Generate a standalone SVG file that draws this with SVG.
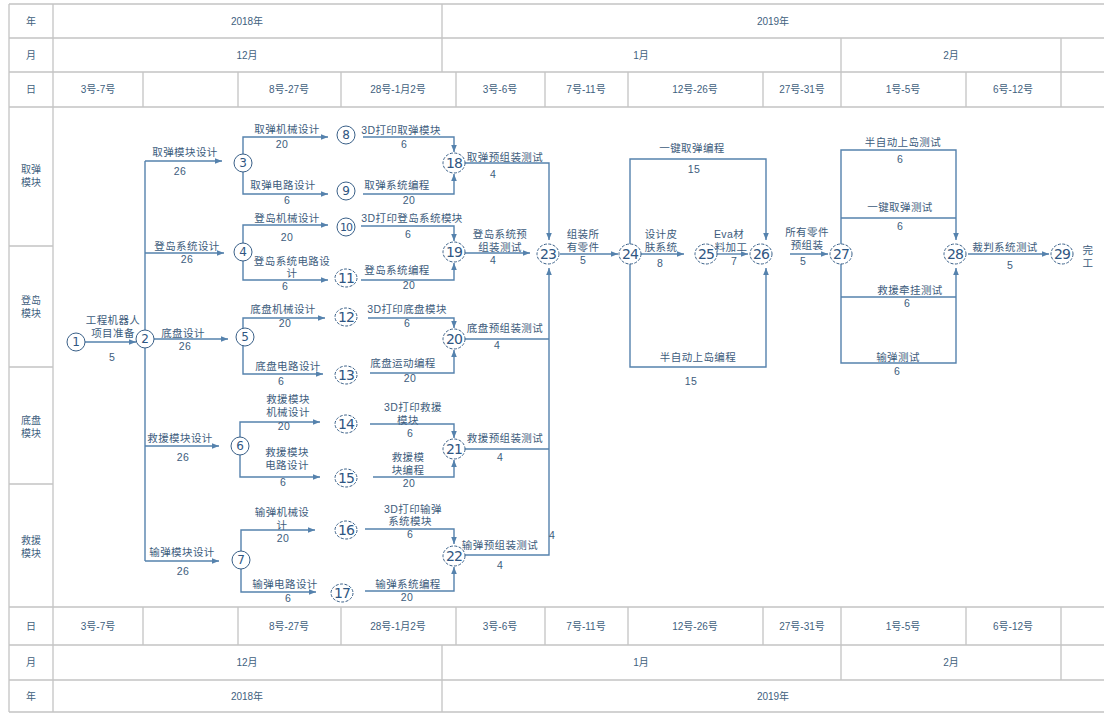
<svg xmlns="http://www.w3.org/2000/svg" width="1104" height="713" viewBox="0 0 1104 713">
<style>
.g{stroke:#c4c4c4;stroke-width:1.3;fill:none}
.h{font-family:"Liberation Sans","Noto Sans CJK SC",sans-serif;font-size:10px;fill:#3f5f80;text-anchor:middle;dominant-baseline:central}
.t{font-family:"Liberation Sans","Noto Sans CJK SC",sans-serif;font-size:10.5px;fill:#3d5c7c;text-anchor:middle;dominant-baseline:central;letter-spacing:0.4px}
.c path{stroke:#5582ad;stroke-width:1.4;fill:none}
.a{marker-end:url(#ar)}
.n circle,.n ellipse{fill:#fff;stroke:#3a6088;stroke-width:1}
.n ellipse{stroke-dasharray:3 1.5}
.n text{font-family:"DejaVu Sans","Liberation Sans",sans-serif;fill:#2f5682;text-anchor:middle;dominant-baseline:central}
.s{font-size:12px}
.b{font-size:14px;letter-spacing:-1px}
</style>
<defs>
<marker id="ar" viewBox="0 0 10 10" refX="10" refY="5" markerWidth="7" markerHeight="7" orient="auto" markerUnits="userSpaceOnUse"><path d="M0,1 L10,5 L0,9 z" fill="#5582ad"/></marker>
</defs>
<rect x="0" y="0" width="1104" height="713" fill="#fff"/>
<g id="table">
<path class="g" d="M9,4 H1104 M9,38 H1104 M9,72 H1104 M9,107 H1104 M9,607 H1104 M9,645 H1104 M9,680 H1104 M9,712 H1104 M9,4 V712 M53,4 V712 M9,246 H53 M9,367 H53 M9,484 H53 M442,4 V72 M841,38 V72 M1061,38 V72 M143,72 V107 M238,72 V107 M341,72 V107 M456,72 V107 M545,72 V107 M628,72 V107 M763,72 V107 M841,72 V107 M966,72 V107 M1061,72 V107 M143,607 V645 M238,607 V645 M341,607 V645 M456,607 V645 M545,607 V645 M628,607 V645 M763,607 V645 M841,607 V645 M966,607 V645 M1061,607 V645 M442,645 V712 M841,645 V680 M1061,645 V680"/>
<text class="h" x="31" y="21">年</text><text class="h" x="247" y="21">2018年</text><text class="h" x="773" y="21">2019年</text>
<text class="h" x="31" y="55">月</text><text class="h" x="247" y="55">12月</text><text class="h" x="641" y="55">1月</text><text class="h" x="951" y="55">2月</text>
<text class="h" x="31" y="89">日</text><text class="h" x="98" y="89">3号-7号</text><text class="h" x="289" y="89">8号-27号</text><text class="h" x="398" y="89">28号-1月2号</text><text class="h" x="500" y="89">3号-6号</text><text class="h" x="586" y="89">7号-11号</text><text class="h" x="695" y="89">12号-26号</text><text class="h" x="802" y="89">27号-31号</text><text class="h" x="903" y="89">1号-5号</text><text class="h" x="1013" y="89">6号-12号</text>
<text class="h" x="31" y="626">日</text><text class="h" x="98" y="626">3号-7号</text><text class="h" x="289" y="626">8号-27号</text><text class="h" x="398" y="626">28号-1月2号</text><text class="h" x="500" y="626">3号-6号</text><text class="h" x="586" y="626">7号-11号</text><text class="h" x="695" y="626">12号-26号</text><text class="h" x="802" y="626">27号-31号</text><text class="h" x="903" y="626">1号-5号</text><text class="h" x="1013" y="626">6号-12号</text>
<text class="h" x="31" y="662">月</text><text class="h" x="247" y="662">12月</text><text class="h" x="641" y="662">1月</text><text class="h" x="951" y="662">2月</text>
<text class="h" x="31" y="696">年</text><text class="h" x="247" y="696">2018年</text><text class="h" x="773" y="696">2019年</text>
<text class="h" x="31" y="169">取弹</text><text class="h" x="31" y="182">模块</text>
<text class="h" x="31" y="300">登岛</text><text class="h" x="31" y="313">模块</text>
<text class="h" x="31" y="420">底盘</text><text class="h" x="31" y="433">模块</text>
<text class="h" x="31" y="540">救援</text><text class="h" x="31" y="553">模块</text>
</g>
<g id="connectors" class="c">
<path class="a" d="M85,342 H136"/>
<path d="M145,161 V561"/>
<path class="a" d="M145,161 H222"/>
<path class="a" d="M145,253 H224"/>
<path class="a" d="M154,339 H228"/>
<path class="a" d="M145,446 H219"/>
<path class="a" d="M145,561 H219"/>
<path class="a" d="M243,163 V137 H328"/><path class="a" d="M243,163 V194 H328"/>
<path class="a" d="M243,252 V225 H328"/><path class="a" d="M243,252 V280 H328"/>
<path class="a" d="M243,337 V318 H325"/><path class="a" d="M243,337 V374 H323"/>
<path class="a" d="M240,446 V422 H320"/><path class="a" d="M240,446 V477 H320"/>
<path class="a" d="M241,560 V530 H315"/><path class="a" d="M241,560 V592 H316"/>
<path class="a" d="M363,137 H454 V152"/><path class="a" d="M363,194 H454 V174"/>
<path class="a" d="M361,226 H454 V241"/><path class="a" d="M361,280 H454 V263"/>
<path class="a" d="M368,318 H454 V328"/><path class="a" d="M370,373 H454 V350"/>
<path class="a" d="M370,424 H454 V438"/><path class="a" d="M373,477 H454 V460"/>
<path class="a" d="M365,529 H454 V544"/><path class="a" d="M365,591 H454 V567"/>
<path class="a" d="M465,163 H549 V240"/>
<path class="a" d="M465,253 H530"/>
<path d="M465,339 H549"/><path d="M465,449 H549"/>
<path class="a" d="M465,555 H549 V268"/>
<path class="a" d="M560,254 H618"/>
<path class="a" d="M630,254 V159 H766 V240"/><path class="a" d="M630,254 V367 H766 V268"/>
<path class="a" d="M641,254 H684"/>
<path class="a" d="M717,254 H748"/>
<path class="a" d="M790,254 H828"/>
<path class="a" d="M841,254 V150 H956 V240"/><path d="M841,218 H956"/>
<path class="a" d="M841,254 V363 H956 V268"/><path d="M841,297 H956"/>
<path class="a" d="M968,254 H1049"/>
</g>
<g id="labels">
<text class="t" x="113" y="320">工程机器人</text><text class="t" x="113" y="333">项目准备</text><text class="t" x="112" y="357">5</text>
<text class="t" x="185" y="152">取弹模块设计</text><text class="t" x="180" y="171">26</text>
<text class="t" x="187" y="246">登岛系统设计</text><text class="t" x="187" y="259">26</text>
<text class="t" x="183" y="333">底盘设计</text><text class="t" x="185" y="346">26</text>
<text class="t" x="180" y="438">救援模块设计</text><text class="t" x="183" y="457">26</text>
<text class="t" x="182" y="552">输弹模块设计</text><text class="t" x="183" y="571">26</text>
<text class="t" x="287" y="129">取弹机械设计</text><text class="t" x="282" y="144">20</text>
<text class="t" x="283" y="185">取弹电路设计</text><text class="t" x="287" y="200">6</text>
<text class="t" x="287" y="218">登岛机械设计</text><text class="t" x="287" y="237">20</text>
<text class="t" x="292" y="261">登岛系统电路设</text><text class="t" x="292" y="273">计</text><text class="t" x="285" y="286">6</text>
<text class="t" x="283" y="309">底盘机械设计</text><text class="t" x="285" y="323">20</text>
<text class="t" x="288" y="366">底盘电路设计</text><text class="t" x="281" y="381">6</text>
<text class="t" x="288" y="399">救援模块</text><text class="t" x="288" y="412">机械设计</text><text class="t" x="284" y="426">20</text>
<text class="t" x="287" y="452">救援模块</text><text class="t" x="287" y="465">电路设计</text><text class="t" x="283" y="482">6</text>
<text class="t" x="282" y="512">输弹机械设</text><text class="t" x="282" y="525">计</text><text class="t" x="283" y="538">20</text>
<text class="t" x="285" y="584">输弹电路设计</text><text class="t" x="288" y="598">6</text>
<text class="t" x="401" y="130">3D打印取弹模块</text><text class="t" x="404" y="144">6</text>
<text class="t" x="397" y="185">取弹系统编程</text><text class="t" x="409" y="200">20</text>
<text class="t" x="412" y="218">3D打印登岛系统模块</text><text class="t" x="408" y="234">6</text>
<text class="t" x="397" y="270">登岛系统编程</text><text class="t" x="409" y="285">20</text>
<text class="t" x="407" y="309">3D打印底盘模块</text><text class="t" x="407" y="323">6</text>
<text class="t" x="403" y="363">底盘运动编程</text><text class="t" x="410" y="378">20</text>
<text class="t" x="413" y="407">3D打印救援</text><text class="t" x="408" y="420">模块</text><text class="t" x="410" y="433">6</text>
<text class="t" x="408" y="457">救援模</text><text class="t" x="408" y="470">块编程</text><text class="t" x="409" y="483">20</text>
<text class="t" x="413" y="509">3D打印输弹</text><text class="t" x="410" y="521">系统模块</text><text class="t" x="410" y="534">6</text>
<text class="t" x="408" y="584">输弹系统编程</text><text class="t" x="407" y="597">20</text>
<text class="t" x="505" y="157">取弹预组装测试</text><text class="t" x="493" y="174">4</text>
<text class="t" x="500" y="234">登岛系统预</text><text class="t" x="500" y="247">组装测试</text><text class="t" x="493" y="260">4</text>
<text class="t" x="505" y="328">底盘预组装测试</text><text class="t" x="497" y="345">4</text>
<text class="t" x="505" y="438">救援预组装测试</text><text class="t" x="500" y="457">4</text>
<text class="t" x="500" y="545">输弹预组装测试</text><text class="t" x="500" y="565">4</text>
<text class="t" x="552" y="535">4</text>
<text class="t" x="583" y="234">组装所</text><text class="t" x="583" y="247">有零件</text><text class="t" x="583" y="260">5</text>
<text class="t" x="692" y="148">一键取弹编程</text><text class="t" x="694" y="169">15</text>
<text class="t" x="698" y="357">半自动上岛编程</text><text class="t" x="691" y="381">15</text>
<text class="t" x="661" y="234">设计皮</text><text class="t" x="661" y="247">肤系统</text><text class="t" x="660" y="263">8</text>
<text class="t" x="729" y="234">Eva材</text><text class="t" x="731" y="247">料加工</text><text class="t" x="734" y="261">7</text>
<text class="t" x="807" y="232">所有零件</text><text class="t" x="807" y="245">预组装</text><text class="t" x="803" y="261">5</text>
<text class="t" x="903" y="142">半自动上岛测试</text><text class="t" x="900" y="159">6</text>
<text class="t" x="900" y="207">一键取弹测试</text><text class="t" x="900" y="226">6</text>
<text class="t" x="910" y="290">救援牵挂测试</text><text class="t" x="907" y="303">6</text>
<text class="t" x="898" y="357">输弹测试</text><text class="t" x="897" y="371">6</text>
<text class="t" x="1005" y="247">裁判系统测试</text><text class="t" x="1010" y="265">5</text>
<text class="t" x="1088" y="250">完</text><text class="t" x="1088" y="263">工</text>
</g>
<g id="nodes" class="n">
<g id="n1"><circle cx="76" cy="342" r="9"/><text class="s" x="76" y="342">1</text></g>
<g id="n2"><circle cx="145" cy="339" r="9"/><text class="s" x="145" y="339">2</text></g>
<g id="n3"><circle cx="243" cy="163" r="9"/><text class="s" x="243" y="163">3</text></g>
<g id="n4"><circle cx="243" cy="252" r="9"/><text class="s" x="243" y="252">4</text></g>
<g id="n5"><circle cx="245" cy="337" r="9"/><text class="s" x="245" y="337">5</text></g>
<g id="n6"><circle cx="240" cy="446" r="9"/><text class="s" x="240" y="446">6</text></g>
<g id="n7"><circle cx="241" cy="560" r="9"/><text class="s" x="241" y="560">7</text></g>
<g id="n8"><circle cx="346" cy="135" r="9"/><text class="s" x="346" y="135">8</text></g>
<g id="n9"><circle cx="346" cy="191" r="9"/><text class="s" x="346" y="191">9</text></g>
<g id="n10"><circle cx="346" cy="227" r="9"/><text class="s" x="346" y="227" style="font-size:11px;letter-spacing:-1px">10</text></g>
<g id="n11"><ellipse cx="346" cy="278" rx="11" ry="9"/><text class="b" x="346" y="278">11</text></g>
<g id="n12"><ellipse cx="346" cy="317" rx="11" ry="9"/><text class="b" x="346" y="317">12</text></g>
<g id="n13"><ellipse cx="346" cy="375" rx="11" ry="9"/><text class="b" x="346" y="375">13</text></g>
<g id="n14"><ellipse cx="346" cy="424" rx="11" ry="9"/><text class="b" x="346" y="424">14</text></g>
<g id="n15"><ellipse cx="346" cy="478" rx="11" ry="9"/><text class="b" x="346" y="478">15</text></g>
<g id="n16"><ellipse cx="346" cy="530" rx="11" ry="9"/><text class="b" x="346" y="530">16</text></g>
<g id="n17"><ellipse cx="342" cy="593" rx="11" ry="9"/><text class="b" x="342" y="593">17</text></g>
<g id="n18"><ellipse cx="454" cy="163" rx="11" ry="10"/><text class="b" x="454" y="163">18</text></g>
<g id="n19"><ellipse cx="454" cy="252" rx="11" ry="10"/><text class="b" x="454" y="252">19</text></g>
<g id="n20"><ellipse cx="454" cy="339" rx="11" ry="10"/><text class="b" x="454" y="339">20</text></g>
<g id="n21"><ellipse cx="454" cy="449" rx="11" ry="10"/><text class="b" x="454" y="449">21</text></g>
<g id="n22"><ellipse cx="454" cy="556" rx="11" ry="10"/><text class="b" x="454" y="556">22</text></g>
<g id="n23"><ellipse cx="548" cy="254" rx="11" ry="10"/><text class="b" x="548" y="254">23</text></g>
<g id="n24"><ellipse cx="630" cy="254" rx="11" ry="10"/><text class="b" x="630" y="254">24</text></g>
<g id="n25"><ellipse cx="706" cy="254" rx="11" ry="10"/><text class="b" x="706" y="254">25</text></g>
<g id="n26"><ellipse cx="761" cy="254" rx="11" ry="10"/><text class="b" x="761" y="254">26</text></g>
<g id="n27"><ellipse cx="841" cy="254" rx="11" ry="10"/><text class="b" x="841" y="254">27</text></g>
<g id="n28"><ellipse cx="955" cy="254" rx="11" ry="10"/><text class="b" x="955" y="254">28</text></g>
<g id="n29"><ellipse cx="1062" cy="254" rx="11" ry="10"/><text class="b" x="1062" y="254">29</text></g>
</g>
</svg>
